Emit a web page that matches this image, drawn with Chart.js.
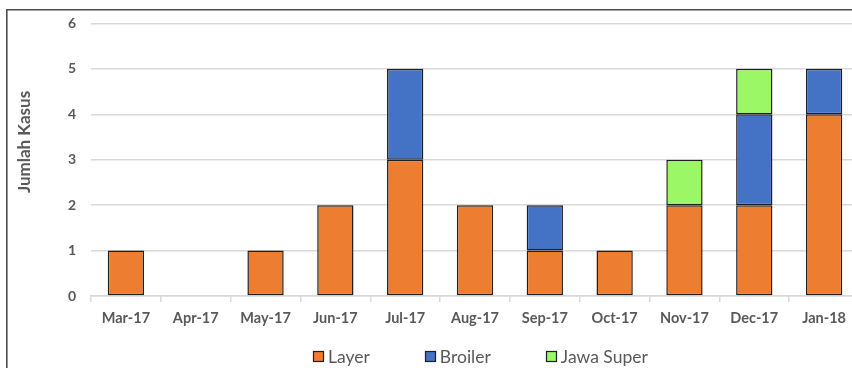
<!DOCTYPE html>
<html>
<head>
<meta charset="utf-8">
<script src="https://cdn.jsdelivr.net/npm/chart.js@4/dist/chart.umd.min.js"></script>
<style>
  html, body { margin: 0; padding: 0; background: #ffffff; overflow: hidden; }
  #wrap { position: relative; width: 870px; height: 368px; }
</style>
</head>
<body>
<div id="wrap"><canvas id="chart"></canvas></div>
<script>
// Monthly case counts by poultry type
const months = ['Mar-17', 'Apr-17', 'May-17', 'Jun-17', 'Jul-17', 'Aug-17', 'Sep-17', 'Oct-17', 'Nov-17', 'Dec-17', 'Jan-18'];
const layer = [1, 0, 1, 2, 3, 2, 1, 1, 2, 2, 4];
const broiler = [0, 0, 0, 0, 2, 0, 1, 0, 0, 2, 1];
const jawaSuper = [0, 0, 0, 0, 0, 0, 0, 0, 1, 1, 0];
const yTicks = [0, 1, 2, 3, 4, 5, 6];
const yTitle = 'Jumlah Kasus';

const FONT = 'Lato, "Open Sans", sans-serif';
const TEXT = '#595959';
const GRID = '#d9d9d9';
const EDGE = '#1f1f1f';

// Outer frame line (left and top edges)
const framePlugin = {
  id: 'frame',
  beforeDraw(chart) {
    const ctx = chart.ctx;
    ctx.save();
    ctx.strokeStyle = '#4d4d4d';
    ctx.lineWidth = 1.6;
    ctx.beginPath();
    ctx.moveTo(6.8, chart.height + 5);
    ctx.lineTo(6.8, 9.8);
    ctx.lineTo(chart.width + 5, 9.8);
    ctx.stroke();
    ctx.restore();
  }
};

// Rotated y-axis title
const yTitlePlugin = {
  id: 'yTitle',
  afterDraw(chart) {
    const ctx = chart.ctx;
    ctx.save();
    ctx.translate(25, 142);
    ctx.rotate(-Math.PI / 2);
    ctx.font = 'bold 17px ' + FONT;
    ctx.fillStyle = TEXT;
    ctx.textAlign = 'center';
    ctx.textBaseline = 'middle';
    ctx.fillText(yTitle, 0, 0);
    ctx.restore();
  }
};

// Legend row under the axis, built from the datasets
const legendPlugin = {
  id: 'rowLegend',
  afterDraw(chart) {
    const ctx = chart.ctx;
    const box = 11, gapText = 4, gapItem = 55, cy = 356, cx = 480;
    ctx.save();
    ctx.font = '17.5px ' + FONT;
    const sets = chart.data.datasets;
    const widths = sets.map(d => box + gapText + ctx.measureText(d.label).width);
    const total = widths.reduce((a, b) => a + b, 0) + gapItem * (sets.length - 1);
    let x = Math.round(cx - total / 2);
    sets.forEach((d, i) => {
      const bx = Math.round(x), by = Math.round(cy - box / 2);
      ctx.fillStyle = d.backgroundColor;
      ctx.fillRect(bx, by, box, box);
      ctx.strokeStyle = EDGE;
      ctx.lineWidth = 1.2;
      ctx.strokeRect(bx + 0.5, by + 0.5, box - 1, box - 1);
      ctx.fillStyle = TEXT;
      ctx.textAlign = 'left';
      ctx.textBaseline = 'middle';
      ctx.fillText(d.label, x + box + gapText, cy + 1);
      x += widths[i] + gapItem;
    });
    ctx.restore();
  }
};

const barStyle = {
  borderColor: EDGE,
  borderWidth: 1.5,
  borderSkipped: false,
  barPercentage: 0.52,
  categoryPercentage: 1.0
};

new Chart(document.getElementById('chart'), {
  type: 'bar',
  data: {
    labels: months,
    datasets: [
      Object.assign({ label: 'Layer', data: layer, backgroundColor: '#ED7D31' }, barStyle),
      Object.assign({ label: 'Broiler', data: broiler, backgroundColor: '#4472C4' }, barStyle),
      Object.assign({ label: 'Jawa Super', data: jawaSuper, backgroundColor: '#9BF766' }, barStyle)
    ]
  },
  options: {
    responsive: true,
    maintainAspectRatio: false,
    animation: false,
    layout: { padding: { top: 22, right: 11, bottom: 0, left: 0 } },
    plugins: {
      legend: { display: false },
      tooltip: { enabled: false }
    },
    scales: {
      x: {
        stacked: true,
        grid: {
          display: true,
          offset: true,
          drawOnChartArea: false,
          drawTicks: true,
          tickLength: 6,
          color: GRID,
          lineWidth: 1.5
        },
        border: { display: true, color: GRID, width: 1.5 },
        ticks: {
          color: TEXT,
          font: { family: FONT, size: 14.5, weight: 'bold' },
          padding: 8,
          maxRotation: 0,
          autoSkip: false
        },
        afterFit(scale) { scale.height = 72; }
      },
      y: {
        stacked: true,
        min: 0,
        max: 6,
        afterBuildTicks(scale) { scale.ticks = yTicks.map(v => ({ value: v })); },
        grid: {
          color: GRID,
          lineWidth: 1.5,
          drawTicks: false
        },
        border: { display: false },
        ticks: {
          color: TEXT,
          font: { family: FONT, size: 14, weight: 'bold' },
          padding: 15
        },
        afterFit(scale) { scale.width = 91; }
      }
    }
  },
  plugins: [framePlugin, yTitlePlugin, legendPlugin]
});
</script>
</body>
</html>
